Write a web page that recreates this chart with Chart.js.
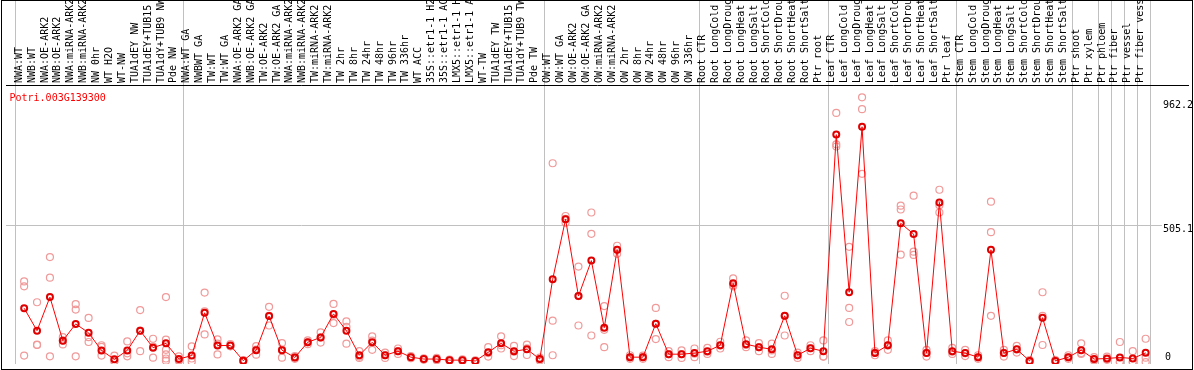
<!DOCTYPE html>
<html><head><meta charset="utf-8">
<script src="https://cdn.jsdelivr.net/npm/chart.js@4/dist/chart.umd.min.js"></script>
<style>
html,body{margin:0;padding:0;background:#fff;}
#wrap{position:relative;width:1194px;height:370px;overflow:hidden;}
#frame{position:absolute;left:1px;top:0;width:1192px;height:370px;box-sizing:border-box;border:1px solid #000;pointer-events:none;}
canvas{position:absolute;left:0;top:0;}
</style></head><body>
<div id="wrap"><canvas id="c" width="1194" height="370"></canvas><div id="frame"></div></div>
<script>
const geneId = 'Potri.003G139300';
const categories = [
 'NWA:WT','NWB:WT','NWA:OE-ARK2','NWB:OE-ARK2','NWA:miRNA-ARK2','NWB:miRNA-ARK2','NW 0hr','WT H2O','WT-NW','TUA1dEY NW','TUA1dEY+TUB15 NW','TUA1dY+TUB9 NW','Pde NW',
 'NWA:WT GA','NWBWT GA','TW:WT','TW:WT GA','NWA:OE-ARK2 GA','NWB:OE-ARK2 GA','TW:OE-ARK2','TW:OE-ARK2 GA','NWA:miRNA-ARK2 GA','NWB:miRNA-ARK2 GA','TW:miRNA-ARK2','TW:miRNA-ARK2 GA',
 'TW 2hr','TW 8hr','TW 24hr','TW 48hr','TW 96hr','TW 336hr','WT ACC','35S::etr1-1 H2O','35S::etr1-1 ACC','LMX5::etr1-1 H2O','LMX5::etr1-1 ACC','WT-TW','TUA1dEY TW','TUA1dEY+TUB15 TW','TUA1dY+TUB9 TW','Pde TW',
 'OW:WT','OW:WT GA','OW:OE-ARK2','OW:OE-ARK2 GA','OW:miRNA-ARK2','OW:miRNA-ARK2 GA','OW 2hr','OW 8hr','OW 24hr','OW 48hr','OW 96hr','OW 336hr',
 'Root CTR','Root LongCold','Root LongDrought','Root LongHeat','Root LongSalt','Root ShortCold','Root ShortDrought','Root ShortHeat','Root ShortSalt','Ptr root',
 'Leaf CTR','Leaf LongCold','Leaf LongDrought','Leaf LongHeat','Leaf LongSalt','Leaf ShortCold','Leaf ShortDrought','Leaf ShortHeat','Leaf ShortSalt','Ptr leaf',
 'Stem CTR','Stem LongCold','Stem LongDrought','Stem LongHeat','Stem LongSalt','Stem ShortCold','Stem ShortDrought','Stem ShortHeat','Stem ShortSalt','Ptr shoot',
 'Ptr xylem','Ptr phloem','Ptr fiber','Ptr vessel','Ptr fiber vessel'
];
const means = [
 199,116,240,79,141,108,43,10,43,116,53,69,11,
 24,182,61,61,5,44,170,44,17,73,91,178,
 116,25,73,25,40,18,11,11,7,7,4,36,69,40,47,11,
 306,528,244,375,127,415,18,18,142,29,29,33,
 40,62,291,66,55,47,171,25,51,40,
 841,258,870,33,62,513,473,33,590,40,
 33,18,415,33,47,4,164,4,18,44,
 11,13,17,13,34
];
const replicates = [
 [298,280,24],[221,64,63],[388,312,21],[92,65,80],[214,194,21],[163,92,74],[62,56,24],[24,3,3],[76,21,32],[192,40,116],[86,16,57],[240,83,45,28,5,13],[21,5,7],
 [58,1,13],[257,102,187],[84,28,68],[66,58,59],[5,3,7],[59,27,46],[204,135,171],[70,16,46],[17,12,22],[80,66,73],[110,72,91],[215,175,144],
 [150,130,68],[40,20,15],[95,45,79],[35,15,25],[50,30,40],[22,14,18],[14,8,11],[15,7,11],[9,5,7],[10,4,7],[6,2,4],[55,20,33],[95,50,62],[60,22,38],[64,26,51],[16,6,11],
 [735,153,25],[540,515,529],[353,135,244],[553,98,474],[207,55,119],[430,400,415],[25,12,17],[24,12,18],[200,85,141],[40,18,29],[43,15,29],[50,18,31],
 [52,30,38],[75,50,61],[309,280,284],[80,55,63],[70,40,55],[68,30,43],[245,170,98],[35,15,25],[62,40,51],[80,20,20],
 [921,797,805],[426,200,148],[979,935,696],[40,25,34],[80,45,61],[564,397,578],[615,408,396],[45,20,34],[637,553,580],[52,30,38],
 [45,22,32],[25,12,17],[593,480,171],[45,20,34],[60,35,46],[7,2,3],[258,171,63],[7,2,3],[25,12,17],[69,30,33],
 [18,6,9],[20,8,11],[74,0,0],[40,0,0],[86,16,0]
];
const yTickValues = [505.1, 962.2];
const yZeroTick = [0];
const groupBoundaries = [-0.64,12.36,40.36,52.36,62.36,72.36,81.36,83.36,84.36,85.36,86.36,87.36];

const X_MIN = -1.4077, X_MAX = 90.2846;
const Y_MIN = -7.3, Y_MAX = 1024.4;
const GRID = '#c0c0c0';
const FONT = {family: '"DejaVu Sans Mono", "Liberation Mono", monospace', size: 10};
const boundarySet = new Set(groupBoundaries);

const meanData = means.map((v, i) => ({x: i, y: v}));
const repData = [];
replicates.forEach((arr, i) => arr.forEach(v => repData.push({x: i, y: v})));

function noPad(s) { s.paddingTop = 0; s.paddingBottom = 0; s.paddingLeft = 0; s.paddingRight = 0; }

const geneLabel = {
  id: 'geneLabel',
  afterDatasetsDraw(chart) {
    const ctx = chart.ctx;
    ctx.save();
    ctx.font = '10px "DejaVu Sans Mono"';
    ctx.fillStyle = '#ff0000';
    ctx.textBaseline = 'alphabetic';
    ctx.textAlign = 'left';
    ctx.fillText(geneId, 9.5, 101);
    ctx.restore();
  }
};

new Chart(document.getElementById('c'), {
  type: 'line',
  data: {
    datasets: [
      {
        label: 'mean', data: meanData, xAxisID: 'x', yAxisID: 'y',
        borderColor: '#ff0000', borderWidth: 1, tension: 0,
        pointRadius: 3, pointBorderWidth: 2, pointBorderColor: '#e00000', pointBackgroundColor: 'rgba(0,0,0,0)'
      },
      {
        label: 'replicates', type: 'scatter', data: repData, xAxisID: 'x', yAxisID: 'y', showLine: false,
        pointRadius: 3.5, pointBorderWidth: 1.2, pointBorderColor: '#f09a9a', pointBackgroundColor: 'rgba(0,0,0,0)'
      }
    ]
  },
  options: {
    responsive: false, animation: false, devicePixelRatio: 1,
    layout: {padding: {left: 1, right: 1, top: 0, bottom: 1}},
    plugins: {legend: {display: false}, tooltip: {enabled: false}},
    scales: {
      x: {type: 'linear', position: 'bottom', min: X_MIN, max: X_MAX, bounds: 'data', display: false},
      xl: {
        type: 'linear', position: 'top', min: X_MIN, max: X_MAX, bounds: 'data',
        afterBuildTicks: (s) => {
          const vals = categories.map((_, i) => i).concat(groupBoundaries).sort((a, b) => a - b);
          s.ticks = vals.map(v => ({value: v}));
        },
        afterFit: (s) => { s.height = 85; noPad(s); },
        ticks: {
          autoSkip: false, minRotation: 90, maxRotation: 90, padding: -83, labelOffset: 7, font: FONT, color: '#000',
          callback: (v) => Number.isInteger(v) ? categories[v] : ''
        },
        grid: {
          drawOnChartArea: true, drawTicks: true, tickLength: 85, lineWidth: 1,
          color: (c) => (c.tick && boundarySet.has(c.tick.value)) ? GRID : 'rgba(0,0,0,0)'
        },
        border: {display: true, color: '#000', width: 1}
      },
      y: {
        type: 'linear', position: 'right', min: Y_MIN, max: Y_MAX, bounds: 'data',
        afterBuildTicks: (s) => { s.ticks = yTickValues.map(v => ({value: v})); },
        afterFit: (s) => { s.width = 0; noPad(s); },
        ticks: {
          mirror: true, crossAlign: 'far', padding: 5, labelOffset: 4, font: FONT, color: '#000',
          showLabelBackdrop: true, backdropColor: '#fff', backdropPadding: 1,
          callback: (v) => v.toFixed(1)
        },
        grid: {drawTicks: false, color: (c) => (c.tick && c.tick.value === 505.1) ? GRID : 'rgba(0,0,0,0)'},
        border: {display: false}
      },
      y0: {
        type: 'linear', position: 'right', min: Y_MIN, max: Y_MAX, bounds: 'data',
        afterBuildTicks: (s) => { s.ticks = yZeroTick.map(v => ({value: v})); },
        afterFit: (s) => { s.width = 0; noPad(s); },
        ticks: {mirror: true, crossAlign: 'far', padding: -17, labelOffset: -5, font: FONT, color: '#000', callback: (v) => String(v)},
        grid: {display: false},
        border: {display: false}
      }
    }
  },
  plugins: [geneLabel]
});
</script>
</body></html>
